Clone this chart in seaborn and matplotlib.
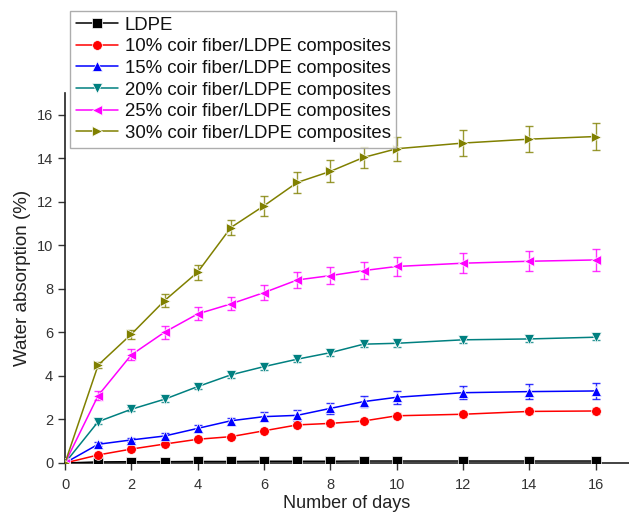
import numpy as np
import pandas as pd
import matplotlib
matplotlib.use("Agg")
import matplotlib.pyplot as plt
import seaborn as sns

days = [0, 1, 2, 3, 4, 5, 6, 7, 8, 9, 10, 12, 14, 16]
series_names = ["LDPE",
                "10% coir fiber/LDPE composites",
                "15% coir fiber/LDPE composites",
                "20% coir fiber/LDPE composites",
                "25% coir fiber/LDPE composites",
                "30% coir fiber/LDPE composites"]
ldpe = [0, 0.05, 0.06, 0.06, 0.07, 0.07, 0.08, 0.08, 0.08, 0.09, 0.09, 0.09, 0.09, 0.09]
c10 = [0, 0.37, 0.64, 0.87, 1.09, 1.21, 1.48, 1.75, 1.82, 1.93, 2.17, 2.24, 2.37, 2.39]
c15 = [0, 0.86, 1.06, 1.24, 1.59, 1.94, 2.13, 2.19, 2.51, 2.82, 3.02, 3.23, 3.28, 3.31]
c20 = [0, 1.90, 2.47, 2.93, 3.51, 4.05, 4.43, 4.77, 5.07, 5.46, 5.50, 5.66, 5.70, 5.78]
c25 = [0, 3.10, 4.97, 6.01, 6.85, 7.31, 7.83, 8.41, 8.61, 8.84, 9.03, 9.18, 9.27, 9.33]
c30 = [0, 4.50, 5.92, 7.46, 8.77, 10.82, 11.82, 12.89, 13.40, 14.04, 14.44, 14.70, 14.88, 15.00]
err_ldpe = [0, 0.02, 0.02, 0.02, 0.02, 0.02, 0.02, 0.02, 0.02, 0.02, 0.02, 0.02, 0.02, 0.02]
err10 = [0, 0.06, 0.07, 0.08, 0.08, 0.08, 0.09, 0.1, 0.1, 0.1, 0.12, 0.12, 0.12, 0.12]
err15 = [0, 0.1, 0.1, 0.12, 0.15, 0.15, 0.2, 0.25, 0.25, 0.25, 0.3, 0.3, 0.35, 0.35]
err20 = [0, 0.1, 0.1, 0.12, 0.12, 0.15, 0.15, 0.15, 0.15, 0.15, 0.15, 0.15, 0.15, 0.15]
err25 = [0, 0.2, 0.25, 0.3, 0.3, 0.3, 0.35, 0.35, 0.4, 0.4, 0.45, 0.45, 0.45, 0.5]
err30 = [0, 0.15, 0.2, 0.3, 0.35, 0.35, 0.45, 0.5, 0.5, 0.5, 0.55, 0.6, 0.6, 0.6]

values = [ldpe, c10, c15, c20, c25, c30]
errors = [err_ldpe, err10, err15, err20, err25, err30]
colors = ["#000000", "#ff0000", "#0000ff", "#008080", "#ff00ff", "#808000"]
markers = ["s", "o", "^", "v", "<", ">"]

df = pd.DataFrame({
    "day": days * len(series_names),
    "value": sum(values, []),
    "err": sum(errors, []),
    "series": sum([[n] * len(days) for n in series_names], []),
})

sns.set_style("ticks")
plt.rcParams["font.family"] = ["Liberation Sans", "DejaVu Sans"]

fig = plt.figure(figsize=(6.29, 5.13), dpi=100)
ax = fig.add_axes([65 / 629, 1 - 463 / 513, 1 - 65 / 629, (463 - 93) / 513])

for name, col, mk in zip(series_names, colors, markers):
    sub = df[df["series"] == name]
    ax.errorbar(sub["day"], sub["value"], yerr=sub["err"], fmt="none",
                ecolor=col, elinewidth=1, capsize=3, capthick=1, alpha=0.8, zorder=2)

sns.lineplot(data=df, x="day", y="value", hue="series", style="series",
             palette=dict(zip(series_names, colors)),
             markers=dict(zip(series_names, markers)),
             dashes=False, markersize=7, markeredgewidth=0.5, linewidth=1.1,
             ax=ax, legend=True, zorder=3)

ax.set_xlim(0, 17)
ax.set_ylim(0, 17)
ax.set_xticks(range(0, 17, 2))
ax.set_yticks(range(0, 17, 2))
ax.tick_params(axis="both", labelsize=10.5, direction="out", length=5, width=1,
               colors="#333333", labelcolor="#333333")
ax.tick_params(axis="x", pad=6)
for s in ["top", "right"]:
    ax.spines[s].set_visible(False)
for s in ["left", "bottom"]:
    ax.spines[s].set_linewidth(1.2)
    ax.spines[s].set_color("#222222")
ax.set_xlabel("Number of days", fontsize=13, color="#222222", labelpad=2)
ax.set_ylabel("Water absorption (%)", fontsize=13.5, color="#222222", labelpad=4)

handles, labels = ax.get_legend_handles_labels()
leg = ax.legend(handles, labels, loc="upper left",
                bbox_to_anchor=(70 / 629, 1 - 11 / 513), bbox_transform=fig.transFigure,
                fontsize=13.4, frameon=True, fancybox=False, borderpad=0.3,
                labelspacing=0.25, handlelength=2.3, handletextpad=0.35, borderaxespad=0)
leg.get_frame().set_edgecolor("#999999")
leg.get_frame().set_linewidth(1)
for t in leg.get_texts():
    t.set_color("#111111")

fig.savefig("out.png", dpi=100)
